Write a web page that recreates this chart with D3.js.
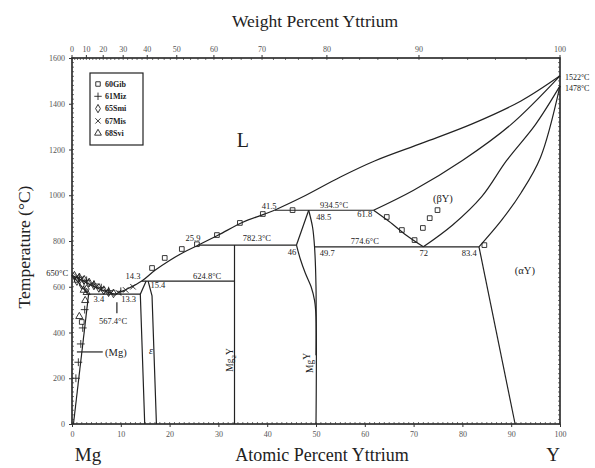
<!DOCTYPE html>
<html>
<head>
<meta charset="utf-8">
<script src="https://cdn.jsdelivr.net/npm/d3@7"></script>
<style>
  body { margin: 0; background: #fff; }
  text { font-family: "Liberation Serif", "DejaVu Serif", serif; fill: #222; }
  .tick text { font-size: 8px; fill: #555; }
</style>
</head>
<body>
<div class="chart"></div>
<script>
// axis tick labels
const atTicks = [0, 10, 20, 30, 40, 50, 60, 70, 80, 90, 100];
const wtTicks = [0, 10, 20, 30, 40, 50, 60, 70, 80, 90, 100];
const tempTicks = [0, 200, 400, 600, 800, 1000, 1200, 1400, 1600];

// phase boundaries as [at.% Y, temperature °C]
const liquidusMg = [[0, 650], [2, 629], [4, 606], [6, 587], [8.8, 567.4]];
const liquidusMid = [[8.8, 567.4], [11.5, 592], [14.3, 624.8], [17, 672], [20, 715], [23, 752], [25.9, 782.3], [30, 826], [35, 882], [39, 914], [41.5, 934.5]];
const liquidusHigh = [[41.5, 934.5], [47, 990], [55, 1080], [62, 1150], [72, 1230], [82, 1312], [92, 1412], [100, 1522]];
const solidusMg = [[0, 650], [1.2, 622], [2.3, 593], [3.4, 567.4]];
const solvusMg = [[3.4, 567.4], [0.3, 0]];
const epsLeft = [[15.2, 624.8], [14.0, 567.4], [14.9, 0]];
const epsRight = [[15.6, 624.8], [16.4, 560], [17.3, 0]];
const mg2yLine = [[33.3, 782.3], [33.3, 0]];
const mgyLeftTop = [[48.5, 934.5], [46, 782.3]];
const mgyLeft = [[46, 782.3], [46.8, 720], [47.8, 660], [49, 600], [49.7, 540], [50, 470], [50, 0]];
const mgyRight = [[48.5, 934.5], [49.3, 860], [49.7, 774.6], [50, 600], [50, 300]];
const betaLeft = [[61.8, 934.5], [65, 885], [68.5, 825], [72, 774.6]];
const betaRight = [[72, 774.6], [78, 870], [84, 995], [89, 1150], [95, 1310], [100, 1478]];
const solidusY = [[61.8, 934.5], [70, 1022], [80, 1152], [90, 1310], [100, 1522]];
const alphaUpper = [[83.4, 774.6], [88, 890], [92, 1010], [96, 1165], [100, 1478]];
const alphaLower = [[83.4, 774.6], [90.8, 0]];
const eutecticMg = [[3.4, 567.4], [14.0, 567.4]];
const peritectic624 = [[14.3, 624.8], [33.3, 624.8]];
const peritectic782 = [[25.9, 782.3], [46, 782.3]];
const peritectic934 = [[41.5, 934.5], [61.8, 934.5]];
const eutectoid774 = [[49.7, 774.6], [83.4, 774.6]];
const mgLeader = [[1.0, 315], [6.3, 315]];
const eutTick = [[9.2, 532], [9.2, 484]];

// experimental points per source
const gibPts = [[16.4, 682], [19, 726], [22.5, 765], [25.6, 786], [29.7, 826], [34.4, 879], [39.1, 918], [45.2, 935],
  [64.5, 905], [67.6, 848], [70.2, 804], [71.9, 857], [73.3, 900], [74.9, 935], [84.5, 782], [2.0, 446], [1.0, 630]];
const mizPts = [[1.5, 642], [3, 628], [4.5, 612], [6, 596], [7.5, 583], [10, 580], [2.6, 500], [2.2, 420], [1.8, 350], [1.3, 270], [0.8, 200]];
const smiPts = [[0.5, 648], [1.5, 640], [2.5, 630], [3.5, 618], [4.5, 606], [5.5, 595], [6.5, 585], [7.5, 576], [8.5, 571], [1, 625], [2, 608], [3, 590]];
const misPts = [[1, 645], [2, 636], [3, 624], [4, 613], [5, 601], [6, 590], [7, 580], [8, 573], [9.5, 574], [11, 586], [12.5, 600]];
const sviPts = [[2.4, 585], [3, 575], [1.5, 470], [2.7, 540]];

const legendNames = ["60Gib", "61Miz", "65Smi", "67Mis", "68Svi"];

// annotations [text, at.%, °C]
const notes = [
  ["14.3", 12.5, 649], ["15.4", 17.6, 608], ["624.8°C", 27.7, 647], ["3.4", 5.5, 546], ["13.3", 11.6, 546],
  ["567.4°C", 8.4, 450], ["25.9", 24.8, 813], ["782.3°C", 37.9, 813], ["41.5", 40.4, 953], ["934.5°C", 53.7, 957],
  ["48.5", 51.6, 905], ["46", 45.1, 752], ["49.7", 52.3, 748], ["774.6°C", 60.0, 800], ["61.8", 60.0, 916],
  ["72", 72.1, 748], ["83.4", 81.4, 748]
];

const W = 595, H = 468;
const svg = d3.select('.chart').append('svg').attr('width', W).attr('height', H);

const x = d3.scaleLinear().domain([0, 100]).range([72, 560]);
const y = d3.scaleLinear().domain([0, 1600]).range([424, 58]);

// weight % Y -> atomic % Y
const wtToAt = w => {
  const nY = w / 88.906, nMg = (100 - w) / 24.305;
  return 100 * nY / (nY + nMg);
};

// frame
svg.append('rect')
  .attr('x', x(0)).attr('y', y(1600))
  .attr('width', x(100) - x(0)).attr('height', y(0) - y(1600))
  .attr('fill', 'none').attr('stroke', '#222').attr('stroke-width', 1.6);

// minor ticks
const minorAt = d3.range(0, 101, 1);
const minorT = d3.range(0, 1601, 20);
const minor = svg.append('g').attr('stroke', '#333').attr('stroke-width', 0.7);
minor.selectAll('.mb').data(minorAt).enter().append('line')
  .attr('x1', d => x(d)).attr('x2', d => x(d)).attr('y1', y(0)).attr('y2', y(0) - 2);
minor.selectAll('.ml').data(minorT).enter().append('line')
  .attr('y1', d => y(d)).attr('y2', d => y(d)).attr('x1', x(0)).attr('x2', x(0) + 2);
minor.selectAll('.mr').data(minorT).enter().append('line')
  .attr('y1', d => y(d)).attr('y2', d => y(d)).attr('x1', x(100)).attr('x2', x(100) - 2);
minor.selectAll('.mt').data(d3.range(0, 101, 2)).enter().append('line')
  .attr('x1', d => x(wtToAt(d))).attr('x2', d => x(wtToAt(d))).attr('y1', y(1600)).attr('y2', y(1600) + 2);

// axes
const fmt = d3.format('d');
const bottom = svg.append('g').attr('transform', `translate(0,${y(0)})`)
  .call(d3.axisBottom(x).tickValues(atTicks).tickFormat(fmt).tickSize(3).tickPadding(4));
const left = svg.append('g').attr('transform', `translate(${x(0)},0)`)
  .call(d3.axisLeft(y).tickValues(tempTicks).tickFormat(fmt).tickSize(3).tickPadding(4));
const topAx = svg.append('g').attr('transform', `translate(0,${y(1600)})`)
  .call(d3.axisTop(d3.scaleLinear().domain([0, 100]).range([72, 560]))
    .tickValues(wtTicks).tickFormat(fmt).tickSize(3).tickPadding(3));
topAx.selectAll('.tick').attr('transform', d => `translate(${x(wtToAt(d))},0)`);
[bottom, left, topAx].forEach(g => {
  g.select('.domain').remove();
  g.selectAll('.tick line').attr('stroke', '#333');
  g.selectAll('.tick text').style('font-family', '"Liberation Serif", serif');
});

// phase boundaries
const smooth = d3.line().x(d => x(d[0])).y(d => y(d[1])).curve(d3.curveCatmullRom.alpha(0.5));
const straight = d3.line().x(d => x(d[0])).y(d => y(d[1]));
const curves = [liquidusMg, liquidusMid, liquidusHigh, solidusMg, mgyLeft, mgyRight, betaLeft, betaRight, solidusY, alphaUpper];
const segs = [solvusMg, epsLeft, epsRight, mg2yLine, mgyLeftTop, alphaLower,
  eutecticMg, peritectic624, peritectic782, peritectic934, eutectoid774, mgLeader, eutTick];
const pg = svg.append('g').attr('fill', 'none').attr('stroke', '#222').attr('stroke-width', 1.2);
pg.selectAll('.c').data(curves).enter().append('path').attr('d', smooth);
pg.selectAll('.s').data(segs).enter().append('path').attr('d', straight);

// experimental points
const sets = [
  { pts: gibPts, type: d3.symbolSquare, size: 22 },
  { pts: mizPts, type: d3.symbolPlus, size: 22 },
  { pts: smiPts, type: d3.symbolDiamond, size: 22 },
  { pts: misPts, type: d3.symbolTimes, size: 22 },
  { pts: sviPts, type: d3.symbolTriangle, size: 22 }
];
sets.forEach(s => {
  svg.append('g').selectAll('path').data(s.pts).enter().append('path')
    .attr('transform', d => `translate(${x(d[0])},${y(d[1])})`)
    .attr('d', d3.symbol().type(s.type).size(s.size))
    .attr('fill', 'none').attr('stroke', '#222').attr('stroke-width', 0.9);
});

// legend
const lg = svg.append('g').attr('transform', 'translate(90,73)');
lg.append('rect').attr('width', 53).attr('height', 72)
  .attr('fill', '#fff').attr('stroke', '#222').attr('stroke-width', 1.2);
legendNames.forEach((n, i) => {
  lg.append('path').attr('transform', `translate(8,${11 + i * 12.3})`)
    .attr('d', d3.symbol().type(sets[i].type).size(20))
    .attr('fill', 'none').attr('stroke', '#222').attr('stroke-width', 0.9);
  lg.append('text').attr('x', 15).attr('y', 11 + i * 12.3).attr('dy', '0.35em')
    .attr('font-size', 8).attr('font-weight', 'bold').text(n);
});

// annotations
svg.append('g').selectAll('text').data(notes).enter().append('text')
  .attr('x', d => x(d[1])).attr('y', d => y(d[2])).attr('dy', '0.35em')
  .attr('text-anchor', 'middle').attr('font-size', 8.5).text(d => d[0]);

const label = (txt, at, t, size, anchor, extra) => {
  const el = svg.append('text').attr('x', x(at)).attr('y', y(t)).attr('dy', '0.35em')
    .attr('text-anchor', anchor || 'middle').attr('font-size', size).text(txt);
  if (extra) extra(el);
  return el;
};
label('650°C', -0.8, 660, 8.5, 'end');
label('1522°C', 101, 1517, 8, 'start');
label('1478°C', 101, 1469, 8, 'start');
label('L', 35, 1241, 20);
label('(Mg)', 9.0, 315, 10.5);
label('ε', 16.2, 323, 10, 'middle', el => el.attr('font-style', 'italic'));
label('(βY)', 76, 988, 10.5);
label('(αY)', 92.8, 673, 10.5);

const rot = (txt, at, t) => {
  const g = svg.append('text').attr('transform', `translate(${x(at)},${y(t)}) rotate(-90)`)
    .attr('text-anchor', 'middle').attr('dy', '0.35em').attr('font-size', 9.5);
  g.append('tspan').text('Mg');
  g.append('tspan').attr('font-size', 7).attr('dy', '0.35em').text(txt);
  g.append('tspan').attr('dy', '-0.35em').text('Y');
  return g;
};
rot('2', 32.4, 280);
rot('', 48.8, 267);

// axis titles
svg.append('text').attr('x', 315).attr('y', 27).attr('text-anchor', 'middle')
  .attr('font-size', 17.5).text('Weight Percent Yttrium');
svg.append('text').attr('x', 322).attr('y', 461).attr('text-anchor', 'middle')
  .attr('font-size', 18).text('Atomic Percent Yttrium');
svg.append('text').attr('x', 88).attr('y', 461).attr('text-anchor', 'middle')
  .attr('font-size', 19).text('Mg');
svg.append('text').attr('x', 553).attr('y', 461).attr('text-anchor', 'middle')
  .attr('font-size', 19).text('Y');
svg.append('text').attr('transform', 'translate(30,247) rotate(-90)').attr('text-anchor', 'middle')
  .attr('font-size', 17.5).text('Temperature (°C)');
</script>
</body>
</html>
